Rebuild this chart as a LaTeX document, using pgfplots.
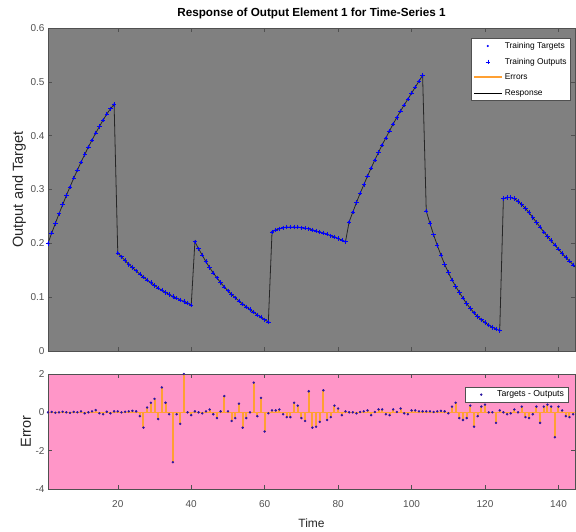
\documentclass[border=0pt]{standalone}
\usepackage{fontspec}
\setmainfont{Liberation Sans}
\usepackage{pgfplots}
\pgfplotsset{compat=1.18}
\usepackage{pgfplotstable}

\definecolor{bggray}{RGB}{128,128,128}
\definecolor{bgpink}{RGB}{255,150,200}
\definecolor{errorange}{RGB}{255,160,50}
\definecolor{tickgray}{RGB}{80,80,80}
\definecolor{dotblue}{RGB}{40,20,160}

\pgfplotsset{
  wideline/.style={legend image code/.code={\draw[##1] (0pt,0pt) -- (28pt,0pt);}},
  errleg/.style={legend image code/.code={\draw[errorange, line width=2pt] (0pt,0pt) -- (28pt,0pt);}},
  widemark/.style={legend image code/.code={\path[draw=none,fill=none] (0pt,-1pt) rectangle (28pt,1pt); \draw[##1] plot coordinates {(14pt,0pt)};}},
}

\pgfplotstableread{
t y e
1 0.200 0
2 0.219 0.02
3 0.237 -0.02
4 0.255 0
5 0.272 0.03
6 0.289 0
7 0.305 -0.03
8 0.321 0.02
9 0.336 0
10 0.351 0.05
11 0.365 -0.05
12 0.379 0
13 0.392 0.05
14 0.405 0.12
15 0.417 -0.05
16 0.429 -0.1
17 0.440 0.03
18 0.450 -0.05
19 0.458 0.05
20 0.182 0.05
21 0.175 0
22 0.168 0.03
23 0.161 0.05
24 0.155 0.08
25 0.149 0.05
26 0.143 -0.2
27 0.137 -0.8
28 0.132 0.25
29 0.127 0.5
30 0.122 0.7
31 0.117 -0.35
32 0.113 1.3
33 0.109 0.5
34 0.105 -0.1
35 0.101 -2.6
36 0.098 -0.1
37 0.095 -0.6
38 0.092 2.0
39 0.089 0
40 0.085 -0.15
41 0.203 0.05
42 0.190 0
43 0.178 -0.05
44 0.166 0.05
45 0.155 0.15
46 0.145 -0.1
47 0.136 -0.3
48 0.127 0.05
49 0.119 0.85
50 0.112 0.05
51 0.105 -0.45
52 0.099 -0.3
53 0.093 0.45
54 0.087 -0.8
55 0.082 -0.3
56 0.077 0
57 0.072 1.55
58 0.067 -0.2
59 0.063 0.75
60 0.058 -1.0
61 0.054 -0.05
62 0.221 0.1
63 0.225 0.1
64 0.227 0.15
65 0.229 -0.1
66 0.230 -0.25
67 0.230 -0.25
68 0.230 0.5
69 0.230 0.35
70 0.229 -0.3
71 0.228 -0.45
72 0.227 1.1
73 0.225 -0.8
74 0.223 -0.75
75 0.221 -0.5
76 0.219 1.15
77 0.217 -0.4
78 0.214 -0.25
79 0.212 0.35
80 0.209 0.2
81 0.206 -0.15
82 0.203 0.05
83 0.240 0
84 0.258 0
85 0.276 -0.05
86 0.293 0.02
87 0.309 0.05
88 0.325 0.1
89 0.340 -0.15
90 0.355 0.02
91 0.369 0.15
92 0.383 0.15
93 0.396 -0.1
94 0.409 -0.15
95 0.422 0.15
96 0.434 0.02
97 0.446 0.2
98 0.457 -0.05
99 0.468 -0.1
100 0.479 0.1
101 0.490 0.1
102 0.501 0.05
103 0.512 0.05
104 0.260 0.05
105 0.237 0.05
106 0.216 0.02
107 0.196 0.05
108 0.178 0.08
109 0.161 0.05
110 0.146 -0.05
111 0.132 0.3
112 0.120 0.5
113 0.109 -0.3
114 0.098 -0.4
115 0.088 -0.3
116 0.079 0.35
117 0.071 -0.75
118 0.064 -0.2
119 0.058 0.3
120 0.053 0.4
121 0.048 0
122 0.044 0
123 0.041 -0.55
124 0.038 0.1
125 0.283 0
126 0.285 -0.1
127 0.285 -0.05
128 0.283 0.15
129 0.278 0
130 0.272 0.3
131 0.265 -0.25
132 0.257 -0.3
133 0.248 -0.1
134 0.239 0.3
135 0.230 -0.55
136 0.221 0.3
137 0.213 0.4
138 0.205 0.3
139 0.197 -1.3
140 0.189 0.3
141 0.181 0.1
142 0.174 -0.2
143 0.167 -0.25
144 0.160 -0.1
145 0.153 0
}\data

\begin{document}
\begin{tikzpicture}
\path[use as bounding box] (0pt,0pt) rectangle (576pt,531pt);
\pgfplotsset{
  every axis/.append style={
    scale only axis, width=527pt, xmin=1, xmax=144.5,
    tick align=inside, major tick length=4pt,
    axis line style={tickgray}, every tick/.style={tickgray},
    ticklabel style={font=\fontsize{10}{12}\selectfont, text=tickgray},
    xtick={20,40,60,80,100,120,140},
  }
}
\begin{axis}[
  at={(48pt,180pt)}, anchor=south west, height=323pt,
  ymin=0, ymax=0.6,
  axis background/.style={fill=bggray},
  xticklabels={},
  ytick={0,0.1,0.2,0.3,0.4,0.5,0.6},
  yticklabels={0,0.1,0.2,0.3,0.4,0.5,0.6},
  ylabel={Output and Target},
  ylabel style={at={(axis description cs:-0.055,0.5)}, anchor=center, font=\fontsize{14.5}{16}\selectfont, text=black!85},
  title={Response of Output Element 1 for Time-Series 1},
  title style={font=\fontsize{11.7}{13}\selectfont\bfseries},
  legend style={at={(rel axis cs:0.992,0.969)}, anchor=north east, fill=white, draw=tickgray,
    font=\fontsize{8.4}{10}\selectfont, row sep=4.2pt, inner sep=2pt, cells={anchor=west}},
]
\addlegendimage{widemark, only marks, mark=*, mark size=0.8pt, blue}
\addlegendentry{Training Targets}
\addlegendimage{widemark, only marks, mark=+, mark size=2.2pt, blue}
\addlegendentry{Training Outputs}
\addlegendimage{errleg}
\addlegendentry{Errors}
\addlegendimage{wideline, black, line width=0.8pt}
\addlegendentry{Response}
\addplot[black!85, line width=0.8pt, no marks, forget plot] table[x=t,y=y]{\data};
\addplot[only marks, mark=+, mark size=2.2pt, blue, mark options={line width=0.6pt}, forget plot] table[x=t,y=y]{\data};
\addplot[only marks, mark=*, mark size=0.8pt, blue, forget plot] table[x=t,y=y]{\data};
\end{axis}

\begin{axis}[
  at={(48pt,42pt)}, anchor=south west, height=115pt,
  ymin=-4, ymax=2,
  axis background/.style={fill=bgpink},
  xticklabels={20,40,60,80,100,120,140},
  xticklabel style={yshift=-8pt},
  ytick={-4,-2,0,2},
  yticklabels={-4,-2,0,2},
  xlabel={Time},
  xlabel style={at={(rel axis cs:0.5,0)}, anchor=center, yshift=-34pt, font=\fontsize{12}{14}\selectfont, text=black!85},
  ylabel={Error},
  ylabel style={at={(axis description cs:-0.042,0.5)}, anchor=center, font=\fontsize{14.5}{16}\selectfont, text=black!85},
  legend style={at={(rel axis cs:0.987,0.89)}, anchor=north east, fill=white, draw=tickgray,
    font=\fontsize{8.7}{10}\selectfont, inner sep=2pt},
]
\addlegendimage{widemark, only marks, mark=*, mark size=1pt, dotblue}
\addlegendentry{Targets - Outputs}
\addplot[errorange, line width=0.8pt, no marks, forget plot] coordinates {(1,0) (145,0)};
\addplot[errorange, ycomb, line width=2pt, no marks, forget plot] table[x=t,y=e]{\data};
\addplot[only marks, mark=*, mark size=1pt, dotblue, forget plot] table[x=t,y=e]{\data};
\node[anchor=south west, font=\fontsize{8}{9}\selectfont, text=tickgray, inner sep=1pt] at (rel axis cs:0,1.01) {$\times$10\textsuperscript{-6}};
\end{axis}
\end{tikzpicture}
\end{document}
